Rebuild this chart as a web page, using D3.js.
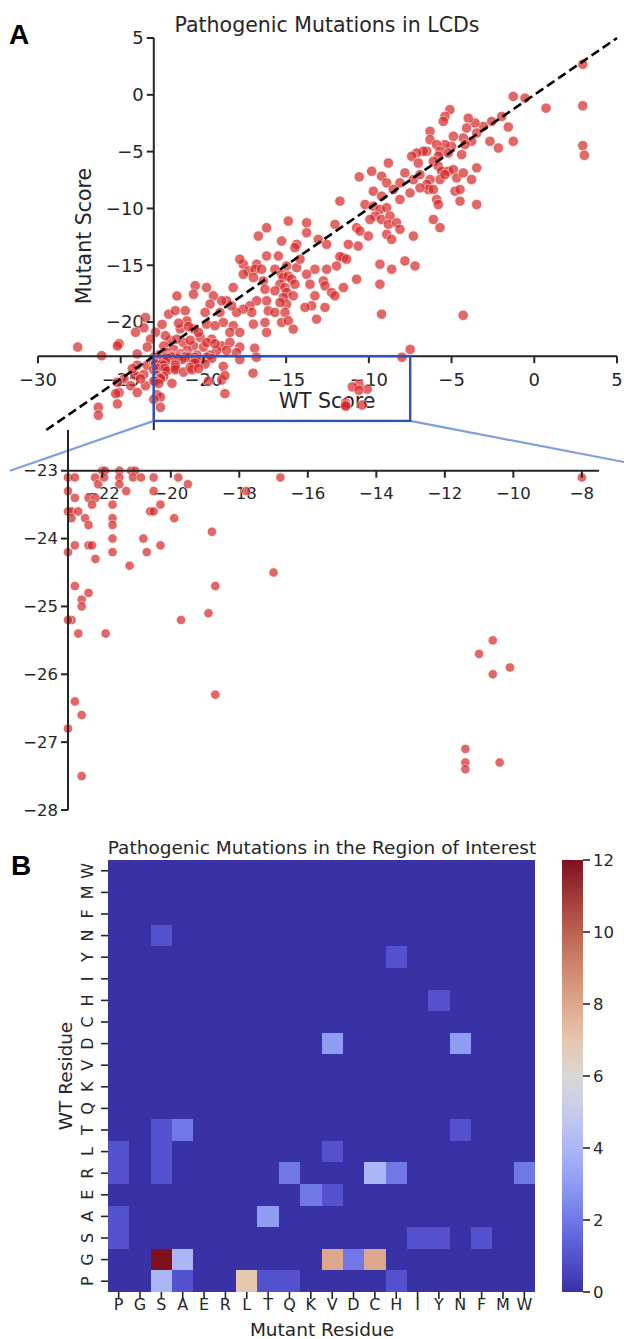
<!DOCTYPE html>
<html><head><meta charset="utf-8">
<script src="https://cdn.jsdelivr.net/npm/d3@7"></script>
<style>
body{margin:0;background:#fff}
svg{display:block}
text{font-family:"DejaVu Sans",sans-serif;fill:#262626}
</style>
</head><body>
<svg id="chart" width="624" height="1339"></svg>
<script>
// ---------- DATA ----------
// [WT score, mutant score] outside the region of interest
const scatterPoints = [
[-20.5,-16.8],[-21.6,-17.7],[-20.6,-17.55],[-22.1,-19.3],[-21.7,-19.0],[-21.1,-19.0],[-21.0,-19.9],[-20.6,-20.6],[-21.4,-20.6],[-23.5,-19.6],[-22.5,-20.2],[-22.9,-20.9],[-23.6,-20.5],[-24.1,-20.9],[-23.2,-21.5],[-23.4,-22.2],[-24.0,-22.8],[-25.1,-21.9],[-25.2,-22.1],[-26.15,-22.96],[-27.6,-22.2],[-22.0,-21.6],[-21.8,-22.4],[-21.2,-21.8],[-20.6,-22.1],[-20.2,-21.35],[-19.5,-21.5],[-18.9,-22.1],[-18.4,-21.8],[-17.8,-22.2],[-19.2,-22.5],[-19.6,-22.9],[-20.4,-22.9],[-22.7,-22.9],
[-24.0,-23.8],[-23.6,-24.6],[-24.1,-24.7],[-24.8,-25.0],[-25.2,-25.3],[-24.4,-25.6],[-23.5,-25.6],[-24.0,-26.2],[-25.1,-26.2],[-25.3,-26.3],[-25.2,-27.2],[-26.35,-27.5],[-26.35,-28.2],[-23.4,-23.8],[-24.3,-24.1],[-23.8,-25.0],
[-22.4,-22.1],[-21.6,-21.5],[-21.0,-22.5],[-20.0,-22.2],[-19.8,-21.8],[-19.3,-21.9],[-22.2,-22.7],[-21.4,-22.8],[-20.8,-21.6],[-18.6,-22.5],[-18.0,-22.7],[-20.3,-20.9],[-22.3,-21.2],[-21.5,-20.1],[-20.9,-20.4],
[-4.3,-19.4],[-7.5,-22.4],[-16.9,-22.3],
[-10.58,-7.22],[-9.83,-6.73],[-9.23,-7.16],[-8.92,-7.75],[-8.12,-7.75],[-7.82,-6.87],[-7.31,-7.46],[-9.73,-8.48],[-8.52,-8.33],[-8.12,-9.21],[-7.51,-8.63],[-9.23,-8.92],[-11.75,-9.36],[-10.23,-9.65],[-9.73,-9.8],[-9.33,-10.09],[-8.92,-9.94],[-9.63,-10.67],[-9.93,-10.97],[-9.23,-10.97],[-8.72,-10.67],[-8.82,-11.4],[-8.32,-11.26],[-8.12,-11.84],[-8.92,-12.28],[-8.62,-12.72],[-7.31,-12.43],[-10.74,-11.7],[-10.54,-11.99],[-10.03,-12.43],
[-14.87,-11.11],[-13.76,-11.26],[-13.76,-12.14],[-16.18,-11.7],[-16.68,-12.43],[-15.27,-12.87],[-14.36,-13.16],[-14.47,-13.45],[-12.55,-13.16],[-12.05,-11.4],[-13.06,-12.72],[-11.24,-13.16],[-10.64,-13.31],[-11.54,-14.33],[-11.75,-14.24],[-11.34,-14.47],[-11.95,-15.06],[-12.55,-15.35],[-12.75,-16.38],[-13.26,-15.35],[-13.76,-15.79],[-13.56,-16.67],[-12.65,-16.81],[-12.25,-17.4],[-12.05,-17.69],[-11.54,-16.96],[-10.74,-16.23],[-9.33,-14.91],[-9.33,-16.67],[-8.62,-15.35],[-7.82,-14.62],[-7.21,-15.06],[-9.23,-19.3],[-13.26,-17.69],[-13.46,-18.57],[-13.86,-18.71],[-13.16,-19.74],[-12.65,-18.71],
[-16.18,-14.18],[-16.78,-14.91],[-17.59,-14.91],[-17.8,-14.47],[-17.29,-15.5],[-16.88,-15.35],[-16.48,-15.35],[-16.98,-16.08],[-18.2,-16.96],[-17.59,-15.79],[-16.38,-16.38],[-16.28,-17.11],[-16.18,-18.13],[-16.08,-19.01],[-16.78,-18.13],[-17.19,-18.57],[-17.08,-19.15],[-16.98,-20.18],[-17.59,-18.86],[-18.0,-19.15],[-18.3,-18.57],[-18.2,-20.32],[-18.6,-18.13],[-18.9,-18.13],[-19.0,-19.15],[-18.8,-20.03],[-19.4,-17.69],[-19.81,-16.96],[-19.6,-18.42],[-19.9,-19.15],[-19.81,-20.18],[-19.3,-20.32],[-18.4,-20.91],[-17.8,-20.91],
[-15.68,-15.35],[-15.27,-15.79],[-15.17,-16.08],[-14.87,-15.94],[-14.67,-16.23],[-14.47,-16.67],[-15.37,-16.67],[-15.07,-16.96],[-14.97,-17.4],[-15.17,-17.84],[-14.57,-17.69],[-14.97,-18.42],[-15.37,-18.28],[-15.68,-19.15],[-15.07,-19.15],[-15.27,-20.03],[-14.87,-19.88],[-14.57,-20.62],[-16.18,-20.91],[-16.28,-20.03],[-15.68,-17.25],[-15.47,-14.18],[-14.97,-15.06],[-14.36,-15.21],[-14.16,-14.47],
[-1.27,-0.14],[-0.56,-0.29],[-2.58,-2.34],[-1.97,-1.9],[-1.57,-2.83],[-1.27,-4.09],[-2.17,-4.68],[-2.68,-4.09],[-3.08,-2.78],[-3.58,-2.48],[-3.99,-2.05],[-4.09,-2.92],[-3.48,-3.36],[-3.79,-4.09],[-4.29,-3.8],[-4.19,-4.38],[-4.39,-5.26],[-4.89,-3.65],[-5.0,-4.53],[-5.4,-4.38],[-5.1,-1.31],[-5.4,-1.9],[-5.5,-2.34],[-6.3,-3.21],[-6.3,-3.95],[-5.9,-4.38],[-5.7,-4.97],[-5.2,-5.12],[-5.8,-5.41],[-6.5,-4.97],[-6.71,-4.97],[-7.11,-5.12],[-7.41,-5.41],[-7.01,-6.0],[-6.1,-5.85],[-5.8,-6.29],[-5.6,-6.72],[-5.2,-6.72],[-4.89,-6.58],[-4.69,-7.31],[-4.29,-6.87],[-3.48,-6.43],[-3.79,-7.45],[-5.7,-7.45],[-5.4,-7.02],[-6.3,-7.45],[-6.5,-7.89],[-6.4,-8.33],[-6.91,-8.19],[-8.82,-6.0],[-6.1,-8.33],[-5.9,-9.21],[-5.8,-9.65],[-4.79,-8.48],[-4.49,-8.33],[-4.49,-9.36],[-3.48,-9.65],[-6.1,-10.97],[-5.7,-11.69],[-6.91,-7.02],
[2.93,2.69],[2.93,-0.96],[2.93,-4.47],[3.03,-5.32],[0.71,-1.17]
];
// [WT score, mutant score] inside the region of interest (shown in the zoom)
const roiPoints = [
[-22.0,-23.0],[-21.92,-23.0],[-21.5,-23.0],[-21.16,-23.0],[-21.04,-23.0],
[-23.0,-23.1],[-22.8,-23.1],[-22.21,-23.1],[-21.95,-23.1],[-21.5,-23.1],[-21.1,-23.1],[-20.87,-23.1],[-20.5,-23.1],[-19.78,-23.1],[-19.5,-23.2],[-16.8,-23.1],[-8.0,-23.1],
[-23.0,-23.3],[-22.8,-23.4],[-22.12,-23.2],[-21.5,-23.2],[-21.3,-23.3],[-20.5,-23.3],[-17.8,-23.3],
[-23.0,-23.6],[-22.9,-23.6],[-22.7,-23.6],[-22.4,-23.4],[-22.2,-23.4],[-22.3,-23.5],[-21.7,-23.5],[-20.3,-23.5],[-20.6,-23.6],[-20.5,-23.6],[-19.9,-23.7],[-22.9,-23.7],[-22.5,-23.7],[-22.4,-23.8],[-21.7,-23.7],[-21.7,-23.8],
[-23.0,-24.2],[-22.8,-24.1],[-22.4,-24.1],[-22.3,-24.1],[-22.2,-24.3],[-21.7,-24.0],[-21.7,-24.2],[-21.2,-24.4],[-20.8,-24.0],[-20.7,-24.2],[-20.3,-24.1],[-18.8,-23.9],[-17.0,-24.5],
[-22.8,-24.7],[-22.4,-24.8],[-22.6,-24.9],[-22.6,-25.0],[-22.9,-25.2],[-23.0,-25.2],[-19.7,-25.2],[-18.9,-25.1],[-18.7,-24.7],
[-22.7,-25.4],[-21.9,-25.4],[-10.6,-25.5],[-11.0,-25.7],[-10.1,-25.9],[-10.6,-26.0],[-18.7,-26.3],[-22.8,-26.4],[-22.6,-26.6],[-23.0,-26.8],[-11.4,-27.1],[-11.4,-27.3],[-11.4,-27.4],[-10.4,-27.3],[-22.6,-27.5]
];
const mainXTicks = [-30,-25,-20,-15,-10,-5,0,5];
const mainYTicks = [5,0,-5,-10,-15,-20];
const insetXTicks = [-22,-20,-18,-16,-14,-12,-10,-8];
const insetYTicks = [-23,-24,-25,-26,-27,-28];
const residues = ["P","G","S","A","E","R","L","T","Q","K","V","D","C","H","I","Y","N","F","M","W"];
// [WT residue, mutant residue, count] (all other cells are 0)
const heatCounts = [
["N","S",1],["Y","H",1],["H","Y",1],["D","V",3],["D","N",3],
["T","S",1],["T","A",2],["T","N",1],["L","P",1],["L","S",1],["L","V",1],
["R","P",1],["R","S",1],["R","Q",2],["R","C",4],["R","H",2],["R","W",2],
["E","K",2],["E","V",1],["A","P",1],["A","T",3],
["S","P",1],["S","I",1],["S","Y",1],["S","F",1],
["G","S",12],["G","A",4],["G","V",8],["G","D",2],["G","C",8],
["P","S",4],["P","A",1],["P","L",7],["P","T",1],["P","Q",1],["P","H",1]
];
const colorbarTicks = [0,2,4,6,8,10,12];
const cmapStops = ["#3832a6","#5552cf","#6f78e6","#8e9cf4","#abb6f6","#c6cbee","#d9d8d6","#e7c6ae","#dda78b","#cf876c","#bb6250","#a03a37","#800f20"];

// ---------- SETUP ----------
const svg = d3.select("#chart");
const ink = "#262626";
const fmt = v => (v < 0 ? "\u2212" + Math.abs(v) : String(v));

svg.append("text").attr("x", 9).attr("y", 44).text("A")
  .style("font-family","'Liberation Sans',Arial,sans-serif").style("font-weight","bold").style("font-size","28px").style("fill","#000");
svg.append("text").attr("x", 11).attr("y", 875).text("B")
  .style("font-family","'Liberation Sans',Arial,sans-serif").style("font-weight","bold").style("font-size","28px").style("fill","#000");

// ---------- MAIN SCATTER ----------
const x = d3.scaleLinear().domain([-30, 5]).range([38, 617]);
const y = d3.scaleLinear().domain([-29.5, 5]).range([430, 38]);
const cross = -23;
const main = svg.append("g");

main.append("text").attr("x", 327).attr("y", 32).attr("text-anchor","middle")
  .style("font-size","20.5px").text("Pathogenic Mutations in LCDs");

main.append("g").selectAll("text").data(mainXTicks).join("text")
  .attr("x", d => x(d)).attr("y", y(cross) + 30).attr("text-anchor","middle")
  .style("font-size","18px").text(fmt);
main.append("g").selectAll("text").data(mainYTicks).join("text")
  .attr("x", x(cross) - 10).attr("y", d => y(d)).attr("dy","0.35em").attr("text-anchor","end")
  .style("font-size","18px").text(fmt);

main.append("text").attr("transform", "translate(91,236) rotate(-90)").attr("text-anchor","middle")
  .style("font-size","20.5px").text("Mutant Score");
main.append("text").attr("x", 327).attr("y", 408).attr("text-anchor","middle")
  .style("font-size","20.5px").text("WT Score");

main.append("g").selectAll("circle").data(scatterPoints.concat(roiPoints)).join("circle")
  .attr("cx", d => x(d[0])).attr("cy", d => y(d[1])).attr("r", 5.2)
  .attr("fill","#d62728").attr("stroke","#fff").attr("stroke-width",0.7).attr("opacity",0.7);

const spine = main.append("g").attr("stroke", ink).attr("stroke-width", 2).attr("fill","none");
spine.append("line").attr("x1", x(-30)).attr("x2", x(5)).attr("y1", y(cross)).attr("y2", y(cross));
spine.append("line").attr("x1", x(cross)).attr("x2", x(cross)).attr("y1", y(5)).attr("y2", y(-29.5));
spine.selectAll(".xt").data(mainXTicks).join("line").attr("class","xt")
  .attr("x1", d => x(d)).attr("x2", d => x(d)).attr("y1", y(cross)).attr("y2", y(cross) + 7);
spine.selectAll(".yt").data(mainYTicks).join("line").attr("class","yt")
  .attr("x1", x(cross) - 7).attr("x2", x(cross)).attr("y1", d => y(d)).attr("y2", d => y(d));

const diag = [-29.5, 5];
main.append("line").attr("x1", x(diag[0])).attr("y1", y(diag[0])).attr("x2", x(diag[1])).attr("y2", y(diag[1]))
  .attr("stroke","#000").attr("stroke-width",2.6).attr("stroke-dasharray","9,4.5");

// ---------- INSET (region of interest) ----------
const roi = {x0: -23, x1: -7.5, y0: -28.7, y1: -23};
const xi = d3.scaleLinear().domain([-23, -7.5]).range([68, 599]);
const yi = d3.scaleLinear().domain([-28, -22.4]).range([810, 430]);

svg.append("line").attr("x1", x(roi.x0)).attr("y1", y(roi.y0)).attr("x2", 10).attr("y2", yi(-23))
  .attr("stroke","#7fa1dc").attr("stroke-width",2.2);
svg.append("line").attr("x1", x(roi.x1)).attr("y1", y(roi.y0)).attr("x2", 624).attr("y2", 462)
  .attr("stroke","#7fa1dc").attr("stroke-width",2.2);
svg.append("rect").attr("x", x(roi.x0)).attr("y", y(roi.y1))
  .attr("width", x(roi.x1) - x(roi.x0)).attr("height", y(roi.y0) - y(roi.y1))
  .attr("fill","none").attr("stroke","#3452b4").attr("stroke-width",2.4);

const inset = svg.append("g");
inset.append("g").selectAll("text").data(insetXTicks).join("text")
  .attr("x", d => xi(d)).attr("y", yi(-23) + 28).attr("text-anchor","middle")
  .style("font-size","16.5px").text(fmt);
inset.append("g").selectAll("text").data(insetYTicks).join("text")
  .attr("x", xi(-23) - 10).attr("y", d => yi(d)).attr("dy","0.35em").attr("text-anchor","end")
  .style("font-size","16.5px").text(fmt);
inset.append("g").selectAll("circle").data(roiPoints).join("circle")
  .attr("cx", d => xi(d[0])).attr("cy", d => yi(d[1])).attr("r", 4.7)
  .attr("fill","#d62728").attr("stroke","#fff").attr("stroke-width",0.7).attr("opacity",0.7);
const ispine = inset.append("g").attr("stroke", ink).attr("stroke-width", 2);
ispine.append("line").attr("x1", xi(-23)).attr("x2", xi(-7.5)).attr("y1", yi(-23)).attr("y2", yi(-23));
ispine.append("line").attr("x1", xi(-23)).attr("x2", xi(-23)).attr("y1", yi(-22.4)).attr("y2", yi(-28));
ispine.selectAll(".xt").data(insetXTicks).join("line").attr("class","xt")
  .attr("x1", d => xi(d)).attr("x2", d => xi(d)).attr("y1", yi(-23)).attr("y2", yi(-23) + 7);
ispine.selectAll(".yt").data(insetYTicks).join("line").attr("class","yt")
  .attr("x1", xi(-23) - 7).attr("x2", xi(-23)).attr("y1", d => yi(d)).attr("y2", d => yi(d));

// ---------- HEATMAP ----------
const hx = d3.scaleBand().domain(residues).range([108, 535]);
const hy = d3.scaleBand().domain(residues.slice().reverse()).range([860, 1292]);
const color = d3.scaleLinear().domain(d3.range(0, 13)).range(cmapStops).interpolate(d3.interpolateRgb).clamp(true);
const countMap = new Map(heatCounts.map(d => [d[0] + "|" + d[1], d[2]]));
const cells = [];
residues.forEach(wt => residues.forEach(mu => cells.push({wt, mu, v: countMap.get(wt + "|" + mu) || 0})));

const heat = svg.append("g");
heat.append("rect").attr("x", 108).attr("y", 860).attr("width", 427).attr("height", 432)
  .attr("fill", color(0)).attr("shape-rendering","crispEdges");
heat.selectAll(".cell").data(cells.filter(d => d.v > 0)).join("rect").attr("class","cell")
  .attr("x", d => hx(d.mu)).attr("y", d => hy(d.wt))
  .attr("width", hx.bandwidth()).attr("height", hy.bandwidth())
  .attr("fill", d => color(d.v)).attr("shape-rendering","crispEdges");

heat.append("text").attr("x", 322).attr("y", 854).attr("text-anchor","middle")
  .style("font-size","18.5px").text("Pathogenic Mutations in the Region of Interest");

const ht = heat.append("g").attr("stroke", ink).attr("stroke-width", 1.6);
ht.selectAll(".xt").data(residues).join("line").attr("class","xt")
  .attr("x1", d => hx(d) + hx.bandwidth()/2).attr("x2", d => hx(d) + hx.bandwidth()/2)
  .attr("y1", 1292).attr("y2", 1299);
ht.selectAll(".yt").data(residues).join("line").attr("class","yt")
  .attr("x1", 101).attr("x2", 108)
  .attr("y1", d => hy(d) + hy.bandwidth()/2).attr("y2", d => hy(d) + hy.bandwidth()/2);

heat.append("g").selectAll("text").data(residues).join("text")
  .attr("x", d => hx(d) + hx.bandwidth()/2).attr("y", 1310).attr("text-anchor","middle")
  .style("font-size","16px").text(d => d);
heat.append("g").selectAll("text").data(residues).join("text")
  .attr("transform", d => `translate(93,${hy(d) + hy.bandwidth()/2}) rotate(-90)`)
  .attr("text-anchor","middle").style("font-size","16px").text(d => d);

heat.append("text").attr("x", 322).attr("y", 1336).attr("text-anchor","middle")
  .style("font-size","18.5px").text("Mutant Residue");
heat.append("text").attr("transform", "translate(72,1076) rotate(-90)").attr("text-anchor","middle")
  .style("font-size","18.5px").text("WT Residue");

// colorbar
const cb = d3.scaleLinear().domain([0, 12]).range([1292, 860]);
const grad = svg.append("defs").append("linearGradient").attr("id","cbg")
  .attr("x1","0").attr("y1","1").attr("x2","0").attr("y2","0");
grad.selectAll("stop").data(d3.range(0, 12.01, 0.5)).join("stop")
  .attr("offset", d => d / 12).attr("stop-color", d => color(d));
svg.append("rect").attr("x", 562).attr("y", cb(12)).attr("width", 21).attr("height", cb(0) - cb(12))
  .attr("fill","url(#cbg)");
const cbt = svg.append("g");
cbt.selectAll("line").data(colorbarTicks).join("line")
  .attr("x1", 583).attr("x2", 590).attr("y1", d => cb(d)).attr("y2", d => cb(d))
  .attr("stroke", ink).attr("stroke-width", 1.6);
cbt.selectAll("text").data(colorbarTicks).join("text")
  .attr("x", 593).attr("y", d => cb(d)).attr("dy","0.35em")
  .style("font-size","16.5px").text(d => d);
</script>
</body></html>
